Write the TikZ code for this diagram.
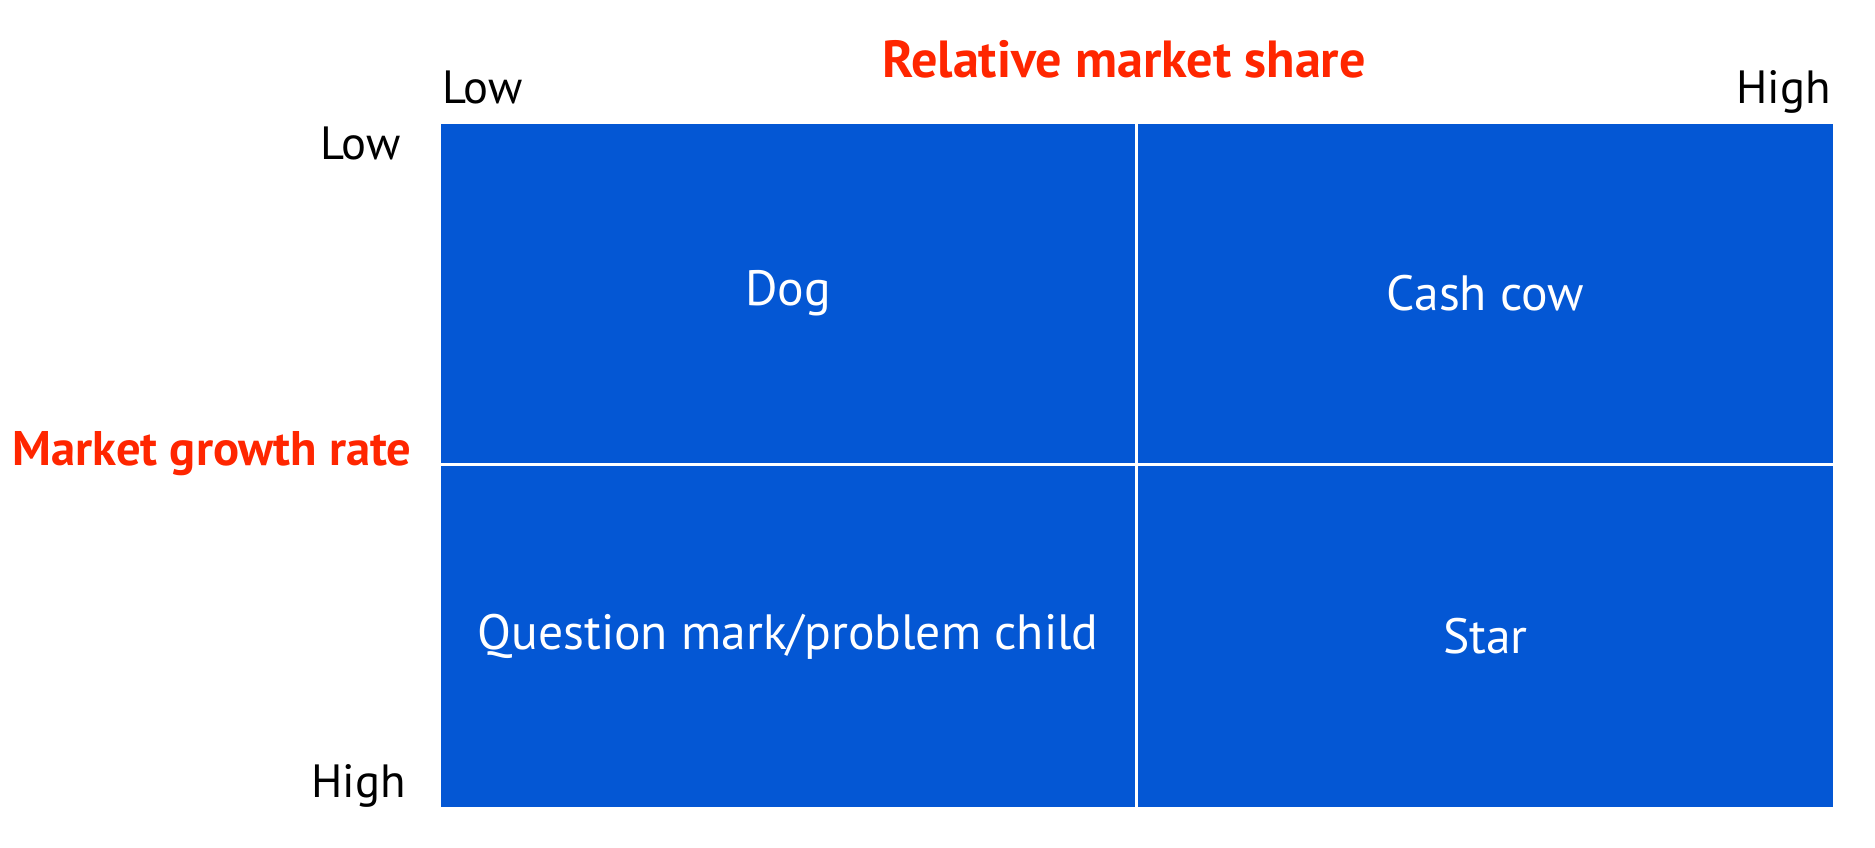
\documentclass[tikz,border=0pt]{standalone}
\usepackage{fontspec}
\setmainfont{PT Sans}
\definecolor{cellblue}{RGB}{4,87,212}
\definecolor{axisred}{RGB}{255,38,0}
\begin{document}
\begin{tikzpicture}[x=0.5pt,y=-0.5pt,
  cell/.style={fill=cellblue, draw=none, inner sep=0pt, text=white,
    font=\fontsize{24.8}{29}\selectfont},
  axislabel/.style={text=axisred, inner sep=0pt},
  ticklabel/.style={text=black, inner sep=0pt, font=\fontsize{23.3}{27}\selectfont}]
\useasboundingbox[fill=white] (0,0) rectangle (1875,847);
% cells
\node[cell, minimum width=347pt, minimum height=169.5pt] (dog) at (788,293.5) {Dog};
\node[cell, minimum width=347.5pt, minimum height=169.5pt] (cow) at (1485.5,293.5) {Cash cow};
\node[cell, minimum width=347pt, minimum height=170.5pt] (qm) at (788,636.5) {Question mark/problem child};
\node[cell, minimum width=347.5pt, minimum height=170.5pt] (star) at (1485.5,636.5) {Star};
% axis titles
\node[axislabel, anchor=base, font=\bfseries\fontsize{26.1}{31}\selectfont] (rms) at (1124,77) {Relative market share};
\node[axislabel, anchor=base east, font=\bfseries\fontsize{24.3}{29}\selectfont] (mgr) at (412,465) {Market growth rate};
% tick labels
\node[ticklabel, anchor=base west] (xlow) at (442,103) {Low};
\node[ticklabel, anchor=base east] (xhigh) at (1831,103) {High};
\node[ticklabel, anchor=base east] (ylow) at (401,159) {Low};
\node[ticklabel, anchor=base east] (yhigh) at (406,797) {High};
\end{tikzpicture}
\end{document}
